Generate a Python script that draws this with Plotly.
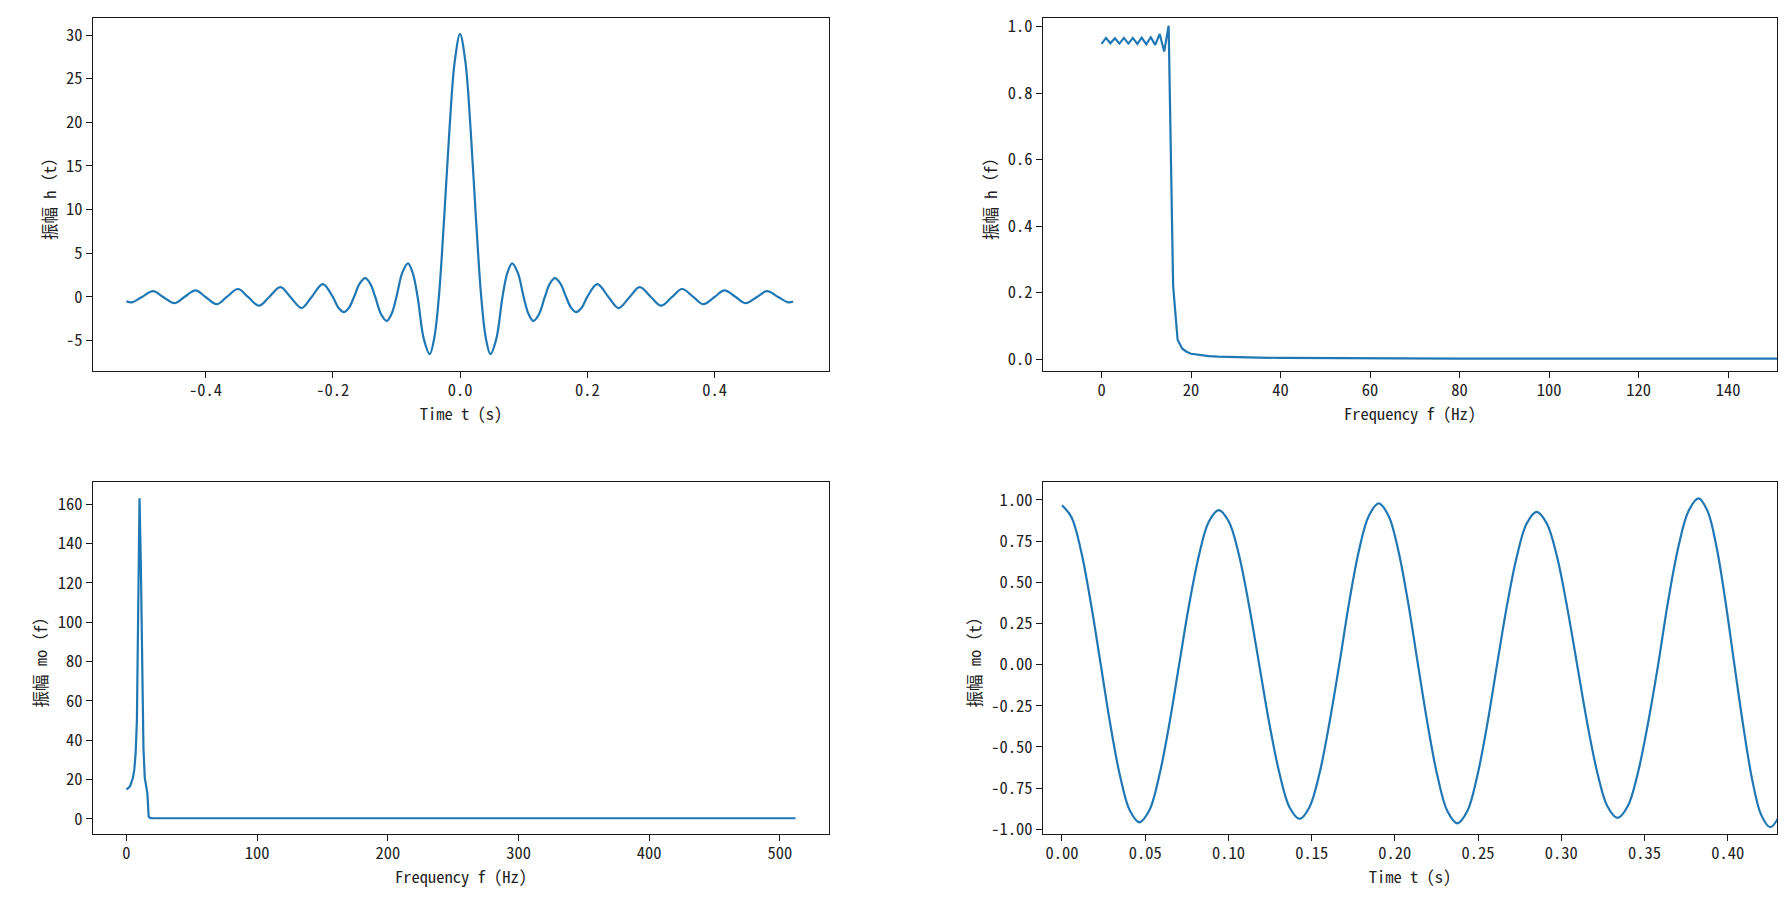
import plotly.graph_objects as go

# ---------------- data ----------------
# Top-left: impulse response h(t)
t_h = [-0.5245, -0.5158, -0.5, -0.4825, -0.4667, -0.449, -0.4333, -0.4158, -0.4, -0.3825,
       -0.3667, -0.349, -0.3333, -0.3158, -0.3, -0.2824, -0.2667, -0.249, -0.2333, -0.2157,
       -0.2, -0.1912, -0.1824, -0.1745, -0.1667, -0.1578, -0.149, -0.1412, -0.1333,
       -0.1243, -0.1153, -0.1077, -0.1, -0.0909, -0.0819, -0.0742,
       -0.0667, -0.057, -0.0477, -0.0405, -0.0333, -0.025, -0.0167, -0.0083, 0.0,
       0.0083, 0.0167, 0.025, 0.0333, 0.0405, 0.0477, 0.057, 0.0667, 0.0742, 0.0819,
       0.0909, 0.1, 0.1077, 0.1153, 0.1243, 0.1333, 0.1412, 0.149, 0.1578, 0.1667,
       0.1745, 0.1824, 0.1912, 0.2, 0.2157, 0.2333,
       0.249, 0.2667, 0.2824, 0.3, 0.3158, 0.3333, 0.349, 0.3667, 0.3825, 0.4,
       0.4158, 0.4333, 0.449, 0.4667, 0.4825, 0.5, 0.5158, 0.5235]
h_t = [-0.48, -0.61, 0.0, 0.66, 0.0, -0.71, 0.0, 0.76, 0.0, -0.83,
       0.0, 0.91, 0.0, -1.0, 0.0, 1.12, 0.0, -1.27, 0.0, 1.47,
       0.0, -1.23, -1.74, -1.23, 0.0, 1.52, 2.15, 1.52, 0.0,
       -1.95, -2.75, -1.95, 0.0, 2.75, 3.85, 2.7,
       0.0, -4.8, -6.55, -4.7, 0.0, 9.0, 19.1, 27.0, 30.1,
       27.0, 19.1, 9.0, 0.0, -4.7, -6.55, -4.8, 0.0, 2.7, 3.85,
       2.75, 0.0, -1.95, -2.75, -1.95, 0.0, 1.52, 2.15, 1.52, 0.0,
       -1.23, -1.74, -1.23, 0.0, 1.47, 0.0,
       -1.27, 0.0, 1.12, 0.0, -1.0, 0.0, 0.91, 0.0, -0.83, 0.0,
       0.76, 0.0, -0.71, 0.0, 0.66, 0.0, -0.61, -0.52]

# Top-right: frequency response h(f)
f_h = [0, 1, 2, 3, 4, 5, 6, 7, 8, 9, 10, 11, 12, 13, 14, 15,
       16, 17, 18, 19, 20, 22, 24, 26, 28, 30, 35, 40, 50, 60, 80, 100, 120, 150, 200, 260]
h_f = [0.948, 0.966, 0.950, 0.965, 0.949, 0.966, 0.949, 0.966, 0.948, 0.967, 0.947, 0.968,
       0.945, 0.978, 0.925, 1.003,
       0.22, 0.058, 0.032, 0.022, 0.016, 0.012, 0.009, 0.0075, 0.0065, 0.0055, 0.0042,
       0.0035, 0.0026, 0.002, 0.0015, 0.0012, 0.001, 0.0008, 0.0006, 0.0005]

# Bottom-left: spectrum mo(f)
f_mo = [0, 1, 2, 3, 4, 5, 6, 7, 8, 9, 10, 11, 12, 13, 14, 15, 16, 17, 18, 20, 30, 60,
        100, 200, 300, 400, 512]
mo_f = [15.0, 15.3, 16.0, 17.0, 19.0, 21.0, 25.0, 33.0, 50.0, 110.0, 163.0, 130.0, 75.0,
        36.0, 21.0, 16.0, 13.0, 1.2, 0.5, 0.4, 0.35, 0.3, 0.3, 0.3, 0.3, 0.3, 0.3]

# Bottom-right: time signal mo(t)
t_mo = [0.0, 0.0058, 0.0116, 0.0174, 0.0233, 0.0291, 0.0349, 0.0407,
        0.0465, 0.0525, 0.0584, 0.0644, 0.0704, 0.0763, 0.0823, 0.0882,
        0.0942, 0.1003, 0.1064, 0.1124, 0.1185, 0.1246, 0.1307, 0.1367,
        0.1428, 0.1487, 0.1547, 0.1606, 0.1666, 0.1725, 0.1784, 0.1844,
        0.1903, 0.1962, 0.2021, 0.2080, 0.2139, 0.2198, 0.2257, 0.2316,
        0.2375, 0.2435, 0.2494, 0.2554, 0.2614, 0.2673, 0.2733, 0.2792,
        0.2852, 0.2913, 0.2974, 0.3034, 0.3095, 0.3156, 0.3217, 0.3277,
        0.3338, 0.3399, 0.3460, 0.3521, 0.3582, 0.3642, 0.3703, 0.3764,
        0.3825, 0.3879, 0.3933, 0.3986, 0.4040, 0.4094, 0.4147, 0.4201,
        0.4255, 0.4310]
mo_t = [0.968, 0.894, 0.684, 0.371, 0.0, -0.367, -0.677, -0.885,
        -0.958, -0.885, -0.677, -0.367, 0.0, 0.359, 0.663, 0.867,
        0.938, 0.867, 0.663, 0.359, 0.0, -0.359, -0.662, -0.866,
        -0.937, -0.866, -0.662, -0.359, 0.0, 0.375, 0.692, 0.904,
        0.979, 0.904, 0.692, 0.375, 0.0, -0.369, -0.682, -0.891,
        -0.964, -0.891, -0.682, -0.369, 0.0, 0.355, 0.656, 0.857,
        0.928, 0.857, 0.656, 0.355, 0.0, -0.356, -0.658, -0.860,
        -0.931, -0.860, -0.658, -0.356, 0.0, 0.386, 0.713, 0.932,
        1.009, 0.932, 0.713, 0.386, 0.0, -0.378, -0.699, -0.913,
        -0.988, -0.92]

# tick labels
tl_x_vals = [-0.4, -0.2, 0.0, 0.2, 0.4]
tl_x_text = ["-0.4", "-0.2", "0.0", "0.2", "0.4"]
tl_y_vals = [-5, 0, 5, 10, 15, 20, 25, 30]
tl_y_text = ["-5", "0", "5", "10", "15", "20", "25", "30"]
tr_x_vals = [0, 20, 40, 60, 80, 100, 120, 140]
tr_x_text = ["0", "20", "40", "60", "80", "100", "120", "140"]
tr_y_vals = [0.0, 0.2, 0.4, 0.6, 0.8, 1.0]
tr_y_text = ["0.0", "0.2", "0.4", "0.6", "0.8", "1.0"]
bl_x_vals = [0, 100, 200, 300, 400, 500]
bl_x_text = ["0", "100", "200", "300", "400", "500"]
bl_y_vals = [0, 20, 40, 60, 80, 100, 120, 140, 160]
bl_y_text = ["0", "20", "40", "60", "80", "100", "120", "140", "160"]
br_x_vals = [0.0, 0.05, 0.10, 0.15, 0.20, 0.25, 0.30, 0.35, 0.40]
br_x_text = ["0.00", "0.05", "0.10", "0.15", "0.20", "0.25", "0.30", "0.35", "0.40"]
br_y_vals = [-1.0, -0.75, -0.5, -0.25, 0.0, 0.25, 0.5, 0.75, 1.0]
br_y_text = ["-1.00", "-0.75", "-0.50", "-0.25", "0.00", "0.25", "0.50", "0.75", "1.00"]

# ---------------- styling ----------------
FONT = "Noto Sans Mono CJK SC, Noto Sans CJK SC, DejaVu Sans Mono, monospace"
FS = 16.5
LINE = dict(color="#1f77b4", width=2.2, shape="spline", smoothing=1.0)
LINE_LIN = dict(color="#1f77b4", width=2.2)


def axis(domain, rng, vals, text, title, anchor, is_x):
    return dict(
        domain=domain, range=rng, anchor=anchor,
        tickmode="array", tickvals=vals, ticktext=text,
        showline=True, mirror=True, linecolor="#1a1a1a", linewidth=1.4,
        ticks="outside", ticklen=6, tickwidth=1.3, tickcolor="#1a1a1a",
        ticklabelstandoff=-2 if is_x else 0,
        showgrid=False, zeroline=False, automargin=False,
        tickfont=dict(family=FONT, size=FS, color="#222"),
        title=dict(text=title, standoff=4 if is_x else 5,
                   font=dict(family=FONT, size=FS, color="#222")),
    )


W, H = 1791, 900
xL = [93 / W, 829 / W]
xR = [1043 / W, 1777 / W]
yT = [1 - 371 / H, 1 - 18 / H]
yB = [1 - 834 / H, 1 - 482 / H]

fig = go.Figure()
fig.add_trace(go.Scatter(x=t_h, y=h_t, mode="lines", line=LINE, xaxis="x", yaxis="y"))
fig.add_trace(go.Scatter(x=f_h, y=h_f, mode="lines", line=LINE_LIN, xaxis="x2", yaxis="y2"))
fig.add_trace(go.Scatter(x=f_mo, y=mo_f, mode="lines", line=LINE_LIN, xaxis="x3", yaxis="y3"))
fig.add_trace(go.Scatter(x=t_mo, y=mo_t, mode="lines", line=LINE, xaxis="x4", yaxis="y4"))

fig.update_layout(
    template="none",
    width=W, height=H,
    margin=dict(l=0, r=0, t=0, b=0),
    paper_bgcolor="white", plot_bgcolor="white",
    showlegend=False,
    font=dict(family=FONT, size=FS, color="#222"),
    xaxis=axis(xL, [-0.577, 0.580], tl_x_vals, tl_x_text, "Time t (s)", "y", True),
    yaxis=axis(yT, [-8.48, 31.95], tl_y_vals, tl_y_text, "振幅 h（t）", "x", False),
    xaxis2=axis(xR, [-13.07, 150.9], tr_x_vals, tr_x_text, "Frequency f (Hz)", "y2", True),
    yaxis2=axis(yT, [-0.036, 1.026], tr_y_vals, tr_y_text, "振幅 h（f）", "x2", False),
    xaxis3=axis(xL, [-25.6, 537.6], bl_x_vals, bl_x_text, "Frequency f (Hz)", "y3", True),
    yaxis3=axis(yB, [-7.7, 171.3], bl_y_vals, bl_y_text, "振幅 mo（f）", "x3", False),
    xaxis4=axis(xR, [-0.0114, 0.4296], br_x_vals, br_x_text, "Time t (s)", "y4", True),
    yaxis4=axis(yB, [-1.029, 1.109], br_y_vals, br_y_text, "振幅 mo（t）", "x4", False),
)

fig.write_html("out.html")
